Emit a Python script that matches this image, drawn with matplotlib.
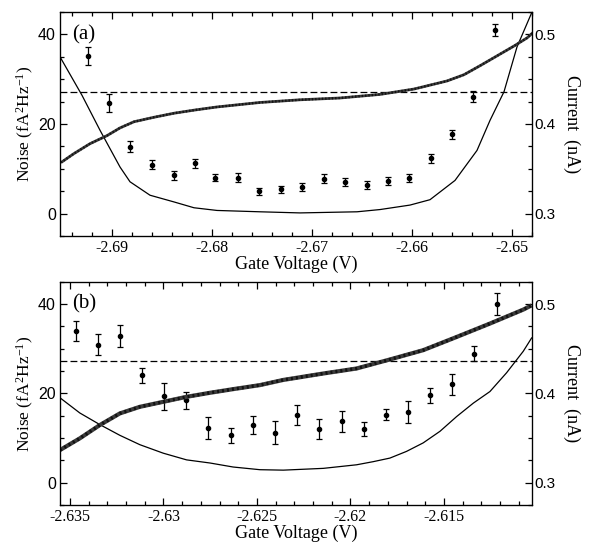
import matplotlib
matplotlib.use("Agg")
import matplotlib.pyplot as plt
from matplotlib.ticker import MultipleLocator

SERIF = "Liberation Serif"
SANS = "Liberation Sans"

plt.rcParams["mathtext.fontset"] = "custom"
plt.rcParams["mathtext.rm"] = SERIF
plt.rcParams["mathtext.it"] = SERIF + ":italic"

# ---- panel (a) ----
a_noise_v = [-2.6924, -2.6903, -2.6882, -2.6860, -2.6838, -2.6817, -2.6797,
             -2.6774, -2.6753, -2.6731, -2.6710, -2.6688, -2.6667, -2.6645,
             -2.6624, -2.6603, -2.6581, -2.6560, -2.6539, -2.6517]
a_noise = [35.1, 24.7, 14.9, 10.9, 8.6, 11.2, 8.0, 8.0, 5.0, 5.4,
           6.0, 7.8, 7.1, 6.3, 7.3, 8.0, 12.3, 17.7, 26.1, 41.0]
a_noise_err = [2.0, 2.1, 1.2, 1.0, 1.0, 1.0, 0.8, 1.0, 0.8, 0.8,
               0.9, 1.0, 0.9, 0.9, 0.9, 0.9, 1.1, 1.0, 1.2, 1.3]

a_theory_v = [-2.6951, -2.6930, -2.6912, -2.6892, -2.6882, -2.6862, -2.6838,
              -2.6818, -2.6795, -2.6752, -2.6712, -2.6655, -2.6632, -2.6602,
              -2.6582, -2.6557, -2.6535, -2.6522, -2.6508, -2.6495, -2.6480]
a_theory = [34.6, 26.4, 18.6, 10.4, 7.1, 4.1, 2.6, 1.3, 0.7, 0.4, 0.15,
            0.4, 0.9, 1.9, 3.1, 7.4, 14.1, 20.8, 27.2, 37.2, 45.0]

a_curr_v = [-2.6951, -2.6938, -2.6922, -2.6905, -2.6892, -2.6878, -2.6858,
            -2.6838, -2.6817, -2.6795, -2.6752, -2.6712, -2.6672, -2.6632,
            -2.6598, -2.6565, -2.6548, -2.6532, -2.6515, -2.6498, -2.6485,
            -2.6479]
a_curr = [0.357, 0.367, 0.378, 0.387, 0.3956, 0.4025, 0.4075, 0.412, 0.4156,
          0.419, 0.424, 0.427, 0.429, 0.433, 0.439, 0.448, 0.455, 0.465,
          0.476, 0.487, 0.496, 0.502]

# ---- panel (b) ----
b_noise_v = [-2.63468, -2.63352, -2.63233, -2.63113, -2.62997, -2.62880,
             -2.62760, -2.62641, -2.62523, -2.62404, -2.62288, -2.62167,
             -2.62047, -2.61929, -2.61810, -2.61693, -2.61575, -2.61456,
             -2.61338, -2.61218]
b_noise = [33.9, 30.9, 32.8, 24.0, 19.3, 18.4, 12.2, 10.6, 12.9, 11.2,
           15.1, 12.0, 13.7, 12.0, 15.2, 15.8, 19.6, 22.0, 28.9, 40.0]
b_noise_err = [2.2, 2.4, 2.4, 1.6, 3.0, 2.0, 2.4, 1.7, 2.0, 2.6,
               2.3, 2.2, 2.3, 1.6, 1.2, 2.4, 1.7, 2.4, 1.7, 2.5]

b_theory_v = [-2.63553, -2.63447, -2.63340, -2.63233, -2.63126, -2.63001,
              -2.62876, -2.62751, -2.62627, -2.62484, -2.62359, -2.62145,
              -2.61967, -2.61878, -2.61789, -2.61700, -2.61611, -2.61521,
              -2.61432, -2.61343, -2.61254, -2.61165, -2.61076, -2.61031]
b_theory = [19.0, 15.6, 13.0, 10.6, 8.5, 6.6, 5.1, 4.4, 3.5, 2.9, 2.8,
            3.2, 4.0, 4.7, 5.5, 7.0, 8.9, 11.5, 14.8, 17.8, 20.4, 24.6,
            29.4, 32.4]

b_curr_v = [-2.63553, -2.63447, -2.63340, -2.63233, -2.63126, -2.63001,
            -2.62876, -2.62751, -2.62627, -2.62484, -2.62359,
            -2.62145, -2.61967, -2.61789, -2.61611, -2.61432, -2.61254,
            -2.61076, -2.61031]
b_curr = [0.3365, 0.3496, 0.3645, 0.3775, 0.3849, 0.3905, 0.3961, 0.4006,
          0.4047, 0.4092, 0.4150, 0.4222, 0.4278, 0.4379, 0.4483,
          0.4631, 0.4781, 0.4937, 0.4985]

dash_level = 27.2

panels = [
    dict(tag="(a)", rect=[0.1017, 0.5646, 0.8, 0.4133],
         xlim=(-2.6952, -2.648), minor=0.002,
         xticks=[-2.69, -2.68, -2.67, -2.66, -2.65],
         nv=a_noise_v, n=a_noise, ne=a_noise_err,
         tv=a_theory_v, t=a_theory, cv=a_curr_v, c=a_curr, band=2.0),
    dict(tag="(b)", rect=[0.1017, 0.0683, 0.8, 0.412],
         xlim=(-2.63553, -2.61029), minor=0.001,
         xticks=[-2.635, -2.63, -2.625, -2.62, -2.615],
         nv=b_noise_v, n=b_noise, ne=b_noise_err,
         tv=b_theory_v, t=b_theory, cv=b_curr_v, c=b_curr, band=3.0),
]

fig = plt.figure(figsize=(5.9, 5.42), dpi=100)

for p in panels:
    ax = fig.add_axes(p["rect"])
    ax2 = ax.twinx()

    # current data (right axis) - dense dotted band
    ax2.plot(p["cv"], p["c"], color="#3a3a3a", lw=p["band"],
             solid_capstyle="butt", solid_joinstyle="round")
    ax2.plot(p["cv"], p["c"], color="#111111", lw=p["band"] * 0.8,
             ls=(0, (0.6, 0.9)))

    # theory line and dashed level (left axis)
    ax.plot(p["tv"], p["t"], color="black", lw=0.9)
    ax.axhline(dash_level, color="black", lw=0.9, ls=(0, (5.5, 2.5)))

    # measured noise with error bars
    ax.errorbar(p["nv"], p["n"], yerr=p["ne"], fmt="o", color="black",
                ms=3, lw=0.9, capsize=2.2, capthick=0.9)

    ax.set_xlim(*p["xlim"])
    ax.set_ylim(-5, 45)
    ax2.set_ylim(0.275, 0.525)

    ax.set_xticks(p["xticks"])
    ax.set_xticklabels([f"{v:g}" for v in p["xticks"]], family=SERIF,
                       fontsize=11.5)
    ax.xaxis.set_minor_locator(MultipleLocator(p["minor"]))
    ax.set_yticks([0, 20, 40])
    ax.set_yticklabels(["0", "20", "40"], family=SANS, fontsize=11.5)
    ax.yaxis.set_minor_locator(MultipleLocator(5))
    ax2.set_yticks([0.3, 0.4, 0.5])
    ax2.set_yticklabels(["0.3", "0.4", "0.5"], family=SANS, fontsize=11)
    ax2.yaxis.set_minor_locator(MultipleLocator(0.025))

    ax.tick_params(axis="both", which="both", direction="in", top=True,
                   right=False, width=0.9)
    ax.tick_params(which="major", length=5, pad=3)
    ax.tick_params(which="minor", length=3)
    ax2.tick_params(axis="y", which="both", direction="in", width=0.9, pad=2)
    ax2.tick_params(which="major", length=5)
    ax2.tick_params(which="minor", length=3)
    for s in ax.spines.values():
        s.set_linewidth(0.9)

    ax.set_xlabel("Gate Voltage (V)", family=SERIF, fontsize=13, labelpad=0)
    ax.set_ylabel(r"Noise (fA$^2$Hz$^{-1}$)", family=SERIF, fontsize=12.5)
    ax.yaxis.set_label_coords(-0.05, 0.5)
    ax2.set_ylabel("Current  (nA)", family=SERIF, fontsize=13, rotation=-90,
                   va="center")
    ax2.yaxis.set_label_coords(1.085, 0.5)

    ax.text(0.025, 0.9, p["tag"], transform=ax.transAxes, family=SERIF,
            fontsize=15, ha="left", va="center")

fig.savefig("out.png", dpi=100)
